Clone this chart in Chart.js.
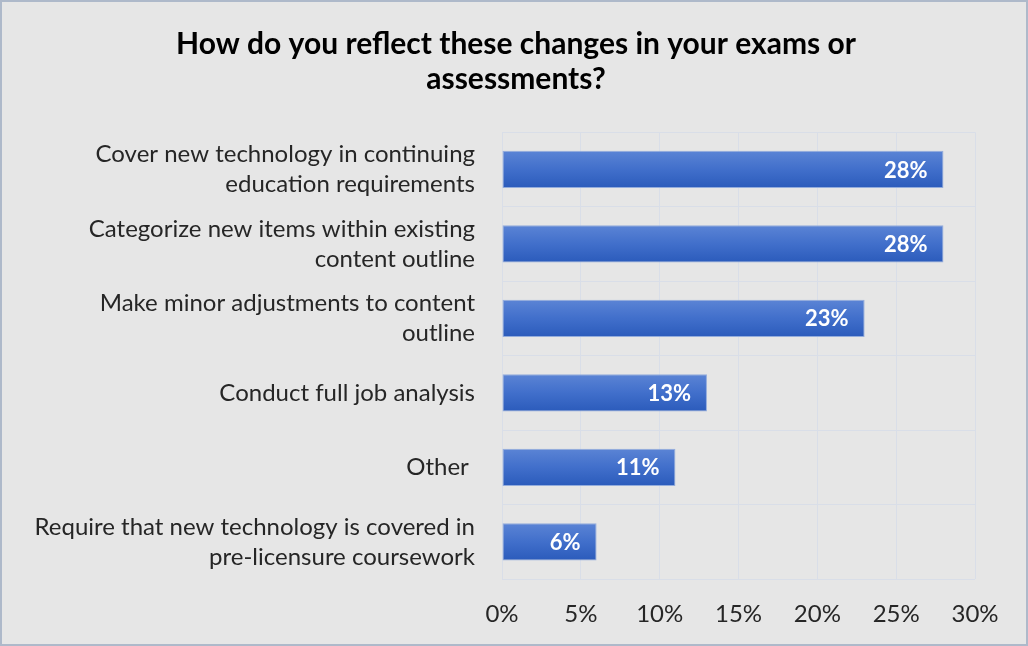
<!DOCTYPE html>
<html>
<head>
<meta charset="utf-8">
<script src="https://cdn.jsdelivr.net/npm/chart.js@4.4.1/dist/chart.umd.min.js"></script>
<style>
  html, body { margin: 0; padding: 0; background: #e6e6e6; }
  #wrap { width: 1028px; height: 646px; position: relative; }
</style>
</head>
<body>
<div id="wrap"><canvas id="chart" width="1028" height="646"></canvas></div>
<script>
// Survey responses: how changes are reflected in exams or assessments
const categories = [
  ["Cover new technology in continuing", "education requirements"],
  ["Categorize new items within existing", "content outline"],
  ["Make minor adjustments to content", "outline"],
  "Conduct full job analysis",
  "Other ",
  ["Require that new technology is covered in", "pre-licensure coursework"]
];
const shares = [28, 28, 23, 13, 11, 6];
const xTicks = [0, 5, 10, 15, 20, 25, 30];
const titleLines = ["How do you reflect these changes in your exams or", "assessments?"];

const FONT = "Lato, 'Open Sans', sans-serif";
const BAR_FRACTION = 0.5;

// Panel background and thin frame
const framePlugin = {
  id: 'frame',
  beforeDraw(chart) {
    const c = chart.ctx;
    c.save();
    c.fillStyle = '#e6e6e6';
    c.fillRect(0, 0, chart.width, chart.height);
    c.strokeStyle = '#aeb9ca';
    c.lineWidth = 2;
    c.strokeRect(1, 1, chart.width - 2, chart.height - 2);
    c.restore();
  }
};

// White percentage labels placed inside the end of each bar
const valueLabels = {
  id: 'valueLabels',
  afterDatasetsDraw(chart) {
    const c = chart.ctx;
    const meta = chart.getDatasetMeta(0);
    c.save();
    c.fillStyle = '#ffffff';
    c.font = "bold 22px " + FONT;
    c.textAlign = 'right';
    c.textBaseline = 'middle';
    meta.data.forEach((bar, i) => {
      c.fillText(shares[i] + '%', bar.x - 16, bar.y + 1);
    });
    c.restore();
  }
};

// Vertical light-to-dark fill across each bar's thickness
function barGradient(ctx) {
  const chart = ctx.chart;
  const yScale = chart.scales && chart.scales.y;
  if (!chart.chartArea || !yScale || ctx.dataIndex === undefined) return '#3d6cc6';
  const cy = yScale.getPixelForValue(ctx.dataIndex);
  const step = (chart.chartArea.bottom - chart.chartArea.top) / categories.length;
  const h = step * BAR_FRACTION;
  if (!isFinite(cy) || !isFinite(h)) return '#3d6cc6';
  const g = chart.ctx.createLinearGradient(0, cy - h / 2, 0, cy + h / 2);
  g.addColorStop(0, '#5b84d5');
  g.addColorStop(0.5, '#416fcb');
  g.addColorStop(1, '#2b5bbb');
  return g;
}

new Chart(document.getElementById('chart'), {
  type: 'bar',
  data: {
    labels: categories,
    datasets: [{
      data: shares,
      backgroundColor: barGradient,
      borderColor: '#93acdc',
      borderWidth: 1,
      borderSkipped: false,
      barPercentage: BAR_FRACTION,
      categoryPercentage: 1.0
    }]
  },
  options: {
    indexAxis: 'y',
    responsive: false,
    animation: false,
    layout: { padding: { left: 4, right: 0, top: 0, bottom: 0 } },
    plugins: {
      legend: { display: false },
      tooltip: { enabled: false },
      title: {
        display: true,
        text: titleLines,
        color: '#000000',
        font: { family: FONT, size: 30, weight: 'bold', lineHeight: 1.17 },
        padding: { top: 27, bottom: 35 }
      }
    },
    scales: {
      x: {
        min: 0,
        max: 30,
        afterBuildTicks(scale) {
          scale.ticks = xTicks.map(v => ({ value: v }));
        },
        afterFit(scale) { scale.height = 67; },
        grid: { color: '#d9dee8', lineWidth: 1, drawTicks: false },
        border: { display: false },
        ticks: {
          padding: 21,
          color: '#262626',
          font: { family: FONT, size: 24 },
          callback: v => v + '%'
        }
      },
      y: {
        afterFit(scale) { scale.width = 498; },
        grid: { color: '#d9dee8', lineWidth: 1, drawTicks: false, offset: true },
        border: { display: false },
        ticks: {
          padding: 27,
          color: '#262626',
          font: { family: FONT, size: 24, lineHeight: 1.25 }
        }
      },
      // empty margin on the right of the plot
      yMargin: {
        type: 'linear',
        axis: 'y',
        position: 'right',
        afterFit(scale) { scale.width = 53; },
        grid: { display: false },
        border: { display: false },
        ticks: { display: false }
      }
    }
  },
  plugins: [framePlugin, valueLabels]
});
</script>
</body>
</html>
